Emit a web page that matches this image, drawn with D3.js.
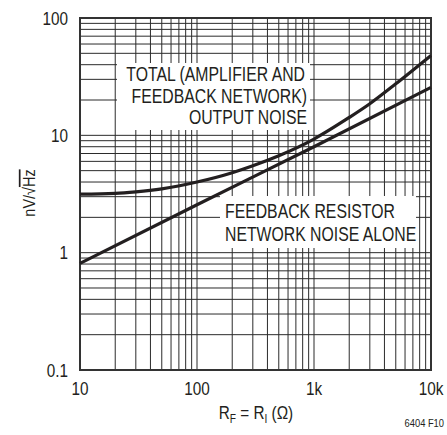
<!DOCTYPE html>
<html>
<head>
<meta charset="utf-8">
<script src="https://cdn.jsdelivr.net/npm/d3@7"></script>
<style>
body { margin: 0; background: #fff; }
text { font-family: "Liberation Sans", Arial, sans-serif; fill: #231f20; }
</style>
</head>
<body>
<svg id="chart" width="447" height="435"></svg>
<script>
// resistance values (ohms) and noise density (nV/rtHz)
var totalR = [10, 20, 30, 50, 100, 200, 300, 500, 1000, 2000, 3000, 5000, 10000];
var totalNoise = [3.15, 3.2, 3.3, 3.5, 4.0, 4.8, 5.5, 6.7, 9.3, 14.2, 18.6, 27.5, 48];
var resR = [10, 100, 1000, 10000];
var resNoise = [0.81, 2.56, 8.0, 25.6];
var xTicks = [10, 100, 1000, 10000];
var xTickLabels = ["10", "100", "1k", "10k"];
var yTicks = [0.1, 1, 10, 100];
var yTickLabels = ["0.1", "1", "10", "100"];

var svg = d3.select("#chart");
var x = d3.scaleLog().domain([10, 10000]).range([80, 431]);
var y = d3.scaleLog().domain([0.1, 100]).range([370, 18]);
var narrow = 0.85; // the original type is a condensed face

var grid = svg.append("g").attr("stroke", "#2b2b2b").attr("stroke-width", 1);
grid.selectAll("line.v").data(x.ticks()).enter().append("line").attr("class", "v")
	.attr("x1", function (d) { return x(d); }).attr("x2", function (d) { return x(d); })
	.attr("y1", 18).attr("y2", 370);
grid.selectAll("line.h").data(y.ticks()).enter().append("line").attr("class", "h")
	.attr("y1", function (d) { return y(d); }).attr("y2", function (d) { return y(d); })
	.attr("x1", 80).attr("x2", 431);

// white boxes behind the notes
svg.append("rect").attr("x", 117).attr("y", 63).attr("width", 193).attr("height", 67).attr("fill", "#fff");
svg.append("rect").attr("x", 220).attr("y", 196).attr("width", 196).attr("height", 52).attr("fill", "#fff");

svg.append("rect").attr("x", 80).attr("y", 18).attr("width", 351).attr("height", 352)
	.attr("fill", "none").attr("stroke", "#333").attr("stroke-width", 2);

var line = d3.line().x(function (d) { return x(d[0]); }).y(function (d) { return y(d[1]); }).curve(d3.curveMonotoneX);
svg.append("path").datum(d3.zip(totalR, totalNoise)).attr("d", line)
	.attr("fill", "none").attr("stroke", "#231f20").attr("stroke-width", 3.2);
svg.append("path").datum(d3.zip(resR, resNoise)).attr("d", line)
	.attr("fill", "none").attr("stroke", "#231f20").attr("stroke-width", 3.2);

function label(px, py, size, anchor, str, sx) {
	return svg.append("g").attr("transform", "translate(" + px + "," + py + ") scale(" + (sx || narrow) + ",1)")
		.append("text").attr("font-size", size).attr("text-anchor", anchor).text(str);
}

xTicks.forEach(function (d, i) { label(x(d), 395, 18, "middle", xTickLabels[i]); });
yTicks.forEach(function (d, i) { label(68, y(d) + 6.5, 18, "end", yTickLabels[i]); });

label(305, 81, 19.5, "end", "TOTAL (AMPLIFIER AND", 0.81);
label(307, 103, 19.5, "end", "FEEDBACK NETWORK)", 0.81);
label(307, 124, 19.5, "end", "OUTPUT NOISE", 0.81);
label(225, 218, 19.5, "start", "FEEDBACK RESISTOR", 0.81);
label(225, 241, 19.5, "start", "NETWORK NOISE ALONE", 0.81);

var yl = svg.append("g").attr("transform", "translate(35,193) rotate(-90) scale(" + narrow + ",1)")
	.append("text").attr("text-anchor", "middle").attr("font-size", 17);
yl.append("tspan").text("nV/√");
yl.append("tspan").style("text-decoration", "overline").text("Hz");

var xl = svg.append("g").attr("transform", "translate(256,419) scale(" + narrow + ",1)")
	.append("text").attr("text-anchor", "middle").attr("font-size", 18);
xl.append("tspan").text("R");
xl.append("tspan").attr("font-size", 12).attr("dy", 4).text("F");
xl.append("tspan").attr("dy", -4).text(" = R");
xl.append("tspan").attr("font-size", 12).attr("dy", 4).text("I");
xl.append("tspan").attr("dy", -4).text(" (Ω)");

label(444, 427, 11, "end", "6404 F10");
</script>
</body>
</html>
